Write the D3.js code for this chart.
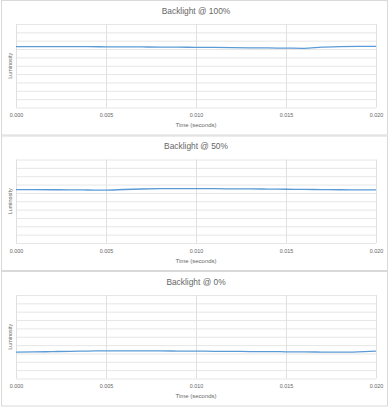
<!DOCTYPE html>
<html>
<head>
<meta charset="utf-8">
<script src="https://cdn.jsdelivr.net/npm/d3@7"></script>
<style>
  body { margin: 0; background: #fff; }
  svg { display: block; }
</style>
</head>
<body>
<svg id="chart" width="390" height="407"></svg>
<script>
// sample times (seconds)
const times = [0.000, 0.001, 0.002, 0.003, 0.004, 0.005, 0.006, 0.007, 0.008, 0.009, 0.010,
               0.011, 0.012, 0.013, 0.014, 0.015, 0.016, 0.017, 0.018, 0.019, 0.020]

const titles = ['Backlight @ 100%', 'Backlight @ 50%', 'Backlight @ 0%']

// luminosity, arbitrary units (0-10 grid)
const lum100 = [7.28, 7.29, 7.29, 7.28, 7.28, 7.27, 7.26, 7.25, 7.24, 7.22, 7.21,
                7.19, 7.17, 7.15, 7.13, 7.11, 7.09, 7.22, 7.30, 7.31, 7.31]
const lum50 = [6.40, 6.39, 6.38, 6.37, 6.35, 6.33, 6.41, 6.47, 6.50, 6.51, 6.52,
               6.50, 6.49, 6.48, 6.46, 6.44, 6.42, 6.40, 6.38, 6.37, 6.36]
const lum0 = [3.16, 3.18, 3.22, 3.26, 3.28, 3.32, 3.31, 3.30, 3.30, 3.29, 3.28,
              3.26, 3.25, 3.23, 3.22, 3.20, 3.18, 3.17, 3.16, 3.20, 3.28]

const xTicks = [0, 0.005, 0.010, 0.015, 0.020]
const yTicks = d3.range(0, 11)

const series = [lum100, lum50, lum0]

const W = 390, panelH = 135.5
const svg = d3.select('#chart')
const font = "'Liberation Sans', 'Open Sans', sans-serif"

const x = d3.scaleLinear().domain([0, 0.020]).range([16, 376])
const y = d3.scaleLinear().domain([0, 10]).range([107.5, 24])

series.forEach((vals, i) => {
  const g = svg.append('g').attr('transform', `translate(0,${i * panelH})`)

  g.append('rect')
    .attr('x', 1.5).attr('y', 0.5)
    .attr('width', 386).attr('height', panelH - 1)
    .attr('fill', '#fff')
    .attr('stroke', '#d9d9d9')

  g.append('text')
    .attr('x', 196).attr('y', 13.5)
    .attr('text-anchor', 'middle')
    .attr('font-family', font)
    .attr('font-size', 8.4)
    .attr('fill', '#666')
    .text(titles[i])

  // horizontal grid
  g.append('g')
    .call(d3.axisLeft(y).tickValues(yTicks).tickSize(-(x.range()[1] - x.range()[0])).tickFormat(''))
    .attr('transform', `translate(${x(0)},0)`)
    .call(a => a.select('.domain').remove())
    .call(a => a.selectAll('line').attr('stroke', '#e6e6e6'))

  // vertical grid + tick labels
  g.append('g')
    .attr('transform', `translate(0,${y(0)})`)
    .call(d3.axisBottom(x).tickValues(xTicks).tickSize(-(y(0) - y(10))).tickFormat(d3.format('.3f')).tickPadding(6))
    .call(a => a.select('.domain').remove())
    .call(a => a.selectAll('line').attr('stroke', '#e0e0e0'))
    .call(a => a.selectAll('text')
      .attr('font-family', font)
      .attr('font-size', 5.4)
      .attr('fill', '#666'))

  g.append('text')
    .attr('x', 196).attr('y', 127)
    .attr('text-anchor', 'middle')
    .attr('font-family', font)
    .attr('font-size', 6)
    .attr('fill', '#666')
    .text('Time (seconds)')

  g.append('text')
    .attr('transform', `translate(11.5,${(y(0) + y(10)) / 2}) rotate(-90)`)
    .attr('text-anchor', 'middle')
    .attr('font-family', font)
    .attr('font-size', 5.4)
    .attr('fill', '#666')
    .text('Luminosity')

  const line = d3.line()
    .x((d, j) => x(times[j]))
    .y(d => y(d))
    .curve(d3.curveMonotoneX)

  g.append('path')
    .datum(vals)
    .attr('fill', 'none')
    .attr('stroke', '#5b9bd5')
    .attr('stroke-width', 1.3)
    .attr('d', line)
})
</script>
</body>
</html>
